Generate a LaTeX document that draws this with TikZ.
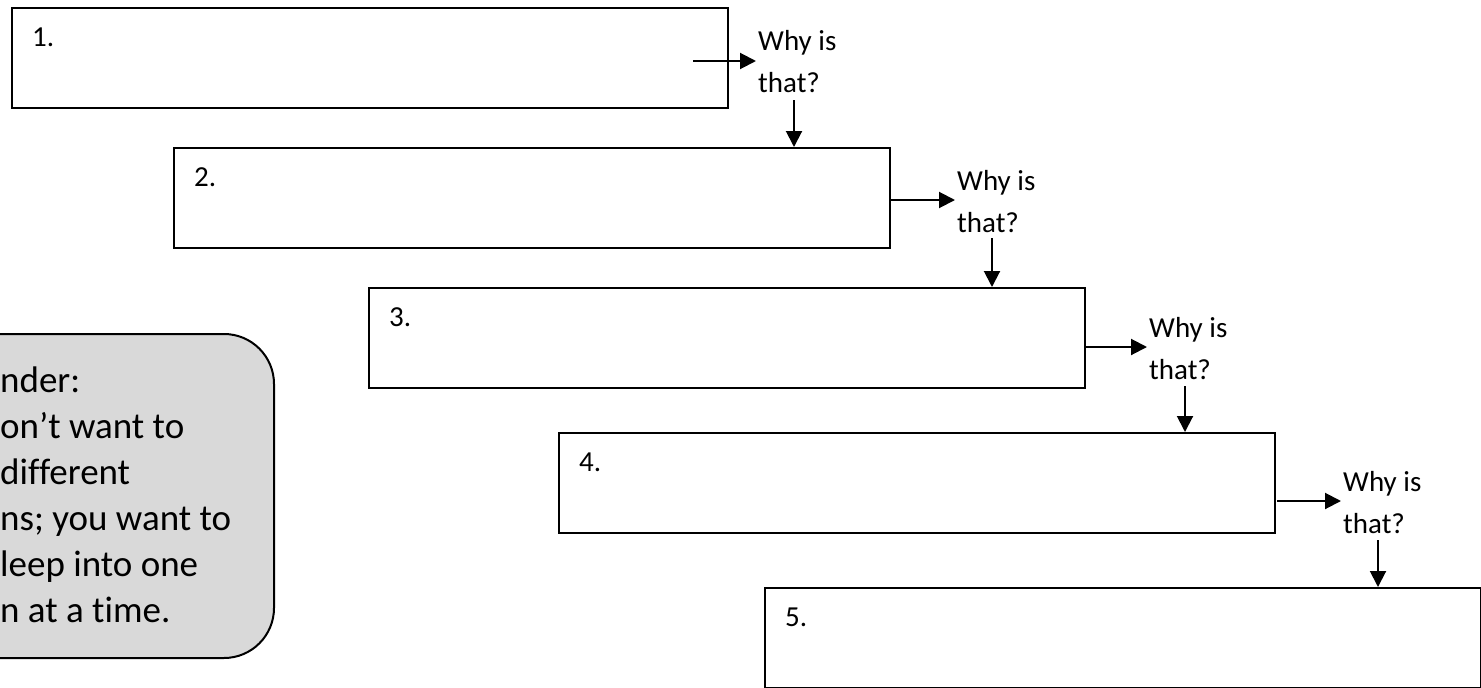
\documentclass[tikz,border=0pt]{standalone}
\usepackage{fontspec}
\setmainfont{Carlito}[Ligatures=NoCommon]
\usetikzlibrary{arrows.meta}
\definecolor{remgray}{HTML}{D9D9D9}
\tikzset{
  stepbox/.style={draw=black, line width=2pt, minimum width=716pt, minimum height=100pt, inner sep=0pt, anchor=north west},
  numlabel/.style={anchor=base west, inner sep=0pt, font=\fontsize{29}{42}\selectfont},
  whylabel/.style={anchor=base west, inner sep=0pt, align=left, font=\fontsize{29}{42}\selectfont},
  arr/.style={line width=2pt, -{Triangle[length=16pt,width=16pt]}},
  remindbox/.style={draw=black, line width=2pt, fill=remgray, rounded corners=50pt, minimum width=360pt, minimum height=324pt, inner sep=0pt, anchor=north east},
  remindtext/.style={anchor=base west, inner sep=0pt, align=left, font=\fontsize{37}{46}\selectfont}
}
\begin{document}
\begin{tikzpicture}[x=1pt,y=-1pt]
\useasboundingbox (0,0) rectangle (1481,688);
% reminder box (cut at left edge)
\node[remindbox] (rem) at (275,333) {};
\node[remindtext] (remtext) at (0,622) {nder:\\on’t want to\\different\\ns; you want to\\leep into one\\n at a time.};
% step boxes
\node[stepbox] (b1) at (11,7) {};
\node[stepbox] (b2) at (173,147) {};
\node[stepbox] (b3) at (368,287) {};
\node[stepbox] (b4) at (558,432) {};
\node[stepbox] (b5) at (764,587) {};
\node[numlabel] (n1) at (32,46) {1.};
\node[numlabel] (n2) at (194,186) {2.};
\node[numlabel] (n3) at (389,326) {3.};
\node[numlabel] (n4) at (579,471) {4.};
\node[numlabel] (n5) at (785,626) {5.};
% why labels (anchored at the baseline of the last line)
\node[whylabel] (w1) at (758,92) {Why is\\that?};
\node[whylabel] (w2) at (957,232) {Why is\\that?};
\node[whylabel] (w3) at (1149,379) {Why is\\that?};
\node[whylabel] (w4) at (1343,533) {Why is\\that?};
% arrow start points
\coordinate (s1) at (693,61);
\coordinate (s2) at (891,200);
\coordinate (s3) at (1085,347);
\coordinate (s4) at (1277,501);
\coordinate (t1) at (794,100);
\coordinate (t2) at (992,238);
\coordinate (t3) at (1185,386);
\coordinate (t4) at (1378,540);
\draw[arr, shorten >=2pt] (s1) -- (s1 -| w1.west);
\draw[arr, shorten >=2pt] (s2) -- (s2 -| w2.west);
\draw[arr, shorten >=2pt] (s3) -- (s3 -| w3.west);
\draw[arr, shorten >=2pt] (s4) -- (s4 -| w4.west);
\draw[arr] (t1) -- (t1 |- b2.north);
\draw[arr] (t2) -- (t2 |- b3.north);
\draw[arr] (t3) -- (t3 |- b4.north);
\draw[arr] (t4) -- (t4 |- b5.north);
\end{tikzpicture}
\end{document}
